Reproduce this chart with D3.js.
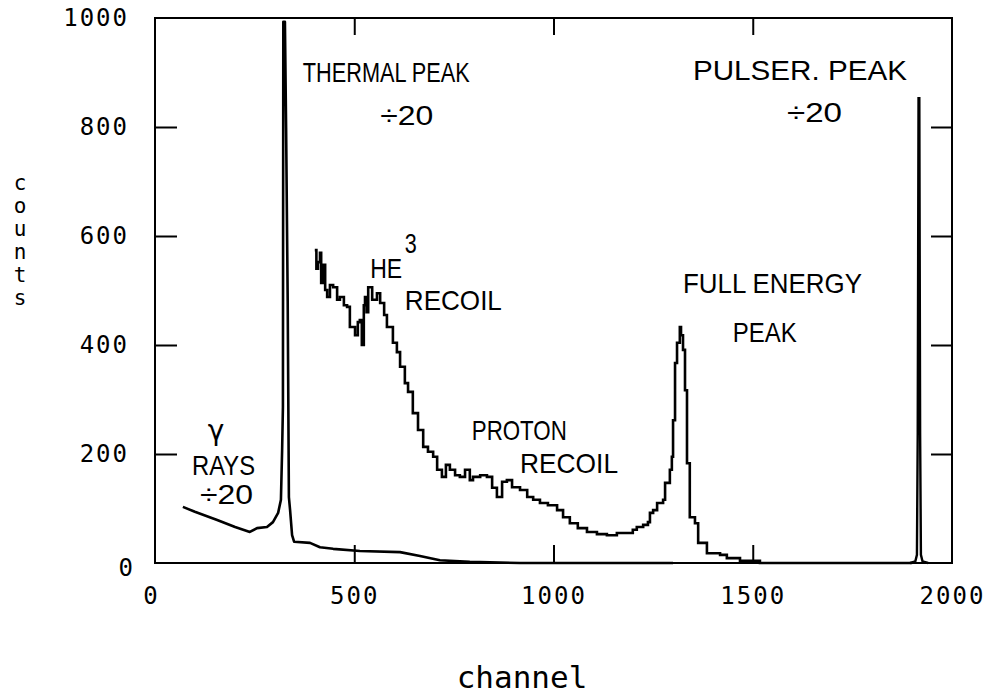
<!DOCTYPE html>
<html>
<head>
<meta charset="utf-8">
<script src="https://cdn.jsdelivr.net/npm/d3@7"></script>
<style>
  body { margin: 0; background: #fff; }
  svg { display: block; }
</style>
</head>
<body>
<svg id="chart" width="990" height="696"></svg>
<script>
// gamma rays + thermal peak (plotted divided by 20): [channel, counts]
const thermalSeries = [
  [70, 103], [100, 94], [156, 79], [201, 66], [238, 57], [256, 64], [281, 66],
  [296, 75], [309, 92], [316, 116], [319, 207], [321, 286], [322, 993],
  [326, 993], [329, 798], [333, 480], [336, 121], [339, 97], [344, 51],
  [349, 39], [389, 37], [414, 29], [447, 26], [514, 22], [615, 20],
  [665, 13], [715, 5], [790, 2], [916, 0], [1300, 0]
];

// He3 recoil, proton recoil and full energy peak: [channel, counts]
const recoilSeries = [
  [401, 574], [405, 540], [409, 552], [414, 569], [417, 514], [422, 547],
  [427, 501], [432, 488], [439, 510], [447, 506], [457, 483], [464, 488],
  [474, 473], [482, 470], [489, 433], [502, 418], [509, 442], [514, 446],
  [519, 400], [524, 473], [527, 488], [531, 460], [535, 506], [545, 483],
  [557, 495], [565, 477], [575, 455], [582, 433], [597, 404], [607, 387],
  [615, 360], [627, 330], [635, 314], [647, 275], [660, 244], [673, 213],
  [685, 204], [698, 195], [708, 171], [720, 158], [730, 180], [740, 171],
  [753, 161], [765, 158], [778, 171], [790, 152], [798, 158], [816, 161],
  [833, 158], [846, 138], [858, 121], [871, 149], [883, 152], [896, 139],
  [916, 134], [934, 121], [949, 116], [966, 110], [986, 106], [1009, 97],
  [1024, 84], [1041, 73], [1061, 64], [1084, 57], [1109, 53], [1134, 51],
  [1159, 55], [1184, 55], [1199, 61], [1209, 66], [1225, 70], [1237, 75],
  [1242, 92], [1250, 97], [1260, 110], [1275, 116], [1280, 147],
  [1292, 171], [1297, 195], [1300, 262], [1305, 367], [1310, 404],
  [1317, 433], [1320, 418], [1325, 391], [1330, 317], [1335, 183],
  [1342, 84], [1355, 73], [1363, 37], [1385, 18], [1418, 15], [1435, 9],
  [1468, 4], [1518, 0], [1900, 0]
];

// pulser peak (divided by 20): [channel, counts]
const pulserSeries = [
  [1895, 0], [1908, 3], [1912, 15], [1914, 240], [1916, 853],
  [1918, 853], [1920, 240], [1922, 15], [1926, 3], [1940, 0]
];

const xTicks = [0, 500, 1000, 1500, 2000];
const yTicks = [0, 200, 400, 600, 800, 1000];

// annotations in data units: [text, channel, counts, width in px]
const notes = [
  ['THERMAL PEAK', 371, 883, 167],
  ['\u00f720', 565, 804, 53],
  ['PULSER. PEAK', 1350, 886, 214],
  ['\u00f720', 1586, 809, 55],
  ['HE', 540, 523, 32],
  ['3', 627, 569, 12],
  ['RECOIL', 627, 464, 97],
  ['PROTON', 795, 226, 95],
  ['RECOIL', 916, 165, 98],
  ['FULL ENERGY', 1325, 495, 179],
  ['PEAK', 1450, 406, 64],
  ['RAYS', 93, 161, 63],
  ['\u00f720', 113, 108, 53]
];

const svg = d3.select('#chart');
const width = 990, height = 696;

const x = d3.scaleLinear().domain([0, 2000]).range([155, 952]);
const y = d3.scaleLinear().domain([0, 1000]).range([563, 18]);

svg.append('rect').attr('width', width).attr('height', height).attr('fill', '#fff');

// frame
svg.append('rect')
  .attr('x', x(0)).attr('y', y(1000))
  .attr('width', x(2000) - x(0)).attr('height', y(0) - y(1000))
  .attr('fill', 'none').attr('stroke', '#000').attr('stroke-width', 2);

const monoFont = "'DejaVu Sans Mono', 'Liberation Mono', monospace";
const labelFont = "'Liberation Sans', Arial, sans-serif";
const fmt = d3.format('d');

// left axis with labels
const leftAxis = svg.append('g')
  .attr('transform', `translate(${x(0)},0)`)
  .call(d3.axisLeft(y).tickValues(yTicks).tickFormat(fmt)
    .tickSizeInner(-22).tickSizeOuter(0).tickPadding(26));
// bottom axis with labels
const bottomAxis = svg.append('g')
  .attr('transform', `translate(0,${y(0)})`)
  .call(d3.axisBottom(x).tickValues(xTicks).tickFormat(fmt)
    .tickSizeInner(-18).tickSizeOuter(0).tickPadding(24));
// right and top: ticks only
const rightAxis = svg.append('g')
  .attr('transform', `translate(${x(2000)},0)`)
  .call(d3.axisRight(y).tickValues([200, 400, 600, 800]).tickSizeInner(-21).tickSizeOuter(0).tickFormat(''));
const topAxis = svg.append('g')
  .attr('transform', `translate(0,${y(1000)})`)
  .call(d3.axisTop(x).tickValues([500, 1000, 1500]).tickSizeInner(-17).tickSizeOuter(0).tickFormat(''));

[leftAxis, bottomAxis, rightAxis, topAxis].forEach(g => {
  g.select('.domain').remove();
  g.selectAll('.tick line').attr('stroke', '#000').attr('stroke-width', 2);
  g.selectAll('.tick text')
    .attr('fill', '#000')
    .style('font-family', monoFont)
    .style('font-size', '24px')
    .style('letter-spacing', '2px');
});
leftAxis.selectAll('.tick').filter(d => d === 0 || d === 1000).select('line').remove();
bottomAxis.selectAll('.tick').filter(d => d === 0 || d === 2000).select('line').remove();
// the zero labels sit a little off the corner in the original plot
leftAxis.selectAll('.tick').filter(d => d === 0).select('text').attr('dy', '0.5em').attr('x', -20);
bottomAxis.selectAll('.tick').filter(d => d === 0).select('text').attr('x', -4);

// curves
const line = d3.line().x(d => x(d[0])).y(d => y(d[1]));
const stepLine = d3.line().x(d => x(d[0])).y(d => y(d[1])).curve(d3.curveStepAfter);

svg.append('path').datum(thermalSeries)
  .attr('d', line).attr('fill', 'none').attr('stroke', '#000')
  .attr('stroke-width', 2.6).attr('stroke-linejoin', 'round');
svg.append('path').datum(recoilSeries)
  .attr('d', stepLine).attr('fill', 'none').attr('stroke', '#000')
  .attr('stroke-width', 2.6);
svg.append('path').datum(pulserSeries)
  .attr('d', line).attr('fill', 'none').attr('stroke', '#000')
  .attr('stroke-width', 2.4);

// annotations
svg.append('g').selectAll('text')
  .data(notes)
  .join('text')
  .attr('x', d => x(d[1]))
  .attr('y', d => y(d[2]))
  .attr('textLength', d => d[3])
  .attr('lengthAdjust', 'spacingAndGlyphs')
  .style('font-family', labelFont)
  .style('font-size', '28px')
  .attr('fill', '#000')
  .text(d => d[0]);

svg.append('text')
  .attr('x', x(153)).attr('y', y(226))
  .attr('text-anchor', 'middle')
  .style('font-family', "'DejaVu Sans', sans-serif")
  .style('font-size', '28px')
  .text('\u03b3');

// axis titles
svg.append('text')
  .attr('x', 522).attr('y', 688)
  .attr('text-anchor', 'middle')
  .style('font-family', monoFont)
  .style('font-size', '31px')
  .text('channel');

svg.append('g').selectAll('text')
  .data('counts'.split(''))
  .join('text')
  .attr('x', 20)
  .attr('y', (d, i) => 190 + i * 23)
  .attr('text-anchor', 'middle')
  .style('font-family', monoFont)
  .style('font-size', '21px')
  .text(d => d);
</script>
</body>
</html>
